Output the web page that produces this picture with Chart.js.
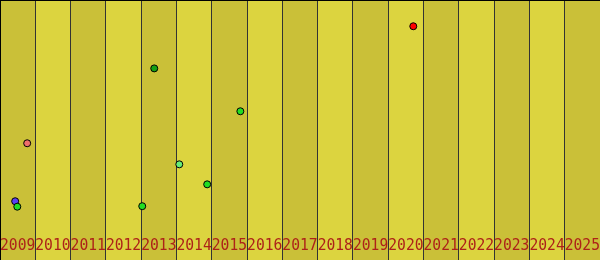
<!DOCTYPE html>
<html>
<head>
<meta charset="utf-8">
<title>Chart</title>
<script src="https://cdn.jsdelivr.net/npm/chart.js@4.4.1/dist/chart.umd.min.js"></script>
<style>
  html, body { margin: 0; padding: 0; background: #dcd43f; }
  #wrap { width: 600px; height: 260px; position: relative; }
</style>
</head>
<body>
<div id="wrap"><canvas id="chart"></canvas></div>
<script>
const years = [2009, 2010, 2011, 2012, 2013, 2014, 2015, 2016, 2017, 2018, 2019, 2020, 2021, 2022, 2023, 2024, 2025];

// points: x = fractional year, y = value (0-100)
const greenX = [2008.99, 2012.53, 2014.37, 2015.31];
const greenY = [20.5, 20.7, 29.1, 57.2];
const darkGreenX = [2012.87];
const darkGreenY = [73.7];
const mintX = [2013.58];
const mintY = [36.8];
const purpleX = [2008.93];
const purpleY = [22.6];
const pinkX = [2009.27];
const pinkY = [44.9];
const redX = [2020.21];
const redY = [89.9];

const toPoints = (xs, ys) => xs.map((x, i) => ({ x, y: ys[i] }));

function dataset(label, xs, ys, color) {
  return {
    label,
    data: toPoints(xs, ys),
    backgroundColor: color,
    borderColor: "#000000",
    borderWidth: 1,
    pointRadius: 3.5,
  };
}

// column stripes, grid lines and year labels taken from the x scale
const stripes = {
  id: "stripes",
  beforeDatasetsDraw(chart) {
    const { ctx, scales, width, height } = chart;
    const x = scales.x;
    ctx.save();
    years.forEach((yr, i) => {
      const left = x.getPixelForValue(yr - 0.5);
      const right = x.getPixelForValue(yr + 0.5);
      ctx.fillStyle = i % 2 === 0 ? "#cac038" : "#dcd43f";
      ctx.fillRect(left, 0, right - left, height);
    });
    ctx.strokeStyle = "#333333";
    ctx.lineWidth = 1;
    years.slice(0, -1).forEach((yr) => {
      const px = Math.floor(x.getPixelForValue(yr + 0.5)) + 0.5;
      ctx.beginPath();
      ctx.moveTo(px, 0);
      ctx.lineTo(px, height);
      ctx.stroke();
    });
    ctx.strokeStyle = "#000000";
    ctx.beginPath();
    ctx.moveTo(0, 0.5);
    ctx.lineTo(width, 0.5);
    ctx.moveTo(0.5, 0);
    ctx.lineTo(0.5, height);
    ctx.stroke();

    ctx.fillStyle = "#ad2219";
    ctx.font = "16px 'DejaVu Sans Mono'";
    ctx.textAlign = "center";
    ctx.textBaseline = "alphabetic";
    years.forEach((yr) => {
      const left = x.getPixelForValue(yr - 0.5);
      const right = x.getPixelForValue(yr + 0.5);
      ctx.fillText(String(yr), x.getPixelForValue(yr), 250, right - left);
    });
    ctx.restore();
  },
};

new Chart(document.getElementById("chart"), {
  type: "scatter",
  data: {
    datasets: [
      dataset("A", greenX, greenY, "#22dd22"),
      dataset("B", darkGreenX, darkGreenY, "#14a014"),
      dataset("C", mintX, mintY, "#66ee77"),
      dataset("D", purpleX, purpleY, "#5b3ef5"),
      dataset("E", pinkX, pinkY, "#ee6f6c"),
      dataset("F", redX, redY, "#ff0000"),
    ],
  },
  options: {
    responsive: true,
    maintainAspectRatio: false,
    animation: false,
    layout: { padding: 0, autoPadding: false },
    plugins: {
      legend: { display: false },
      tooltip: { enabled: false },
    },
    scales: {
      x: {
        type: "linear",
        display: false,
        min: 2008.5,
        max: 2025.5,
      },
      y: {
        display: false,
        min: 0,
        max: 100,
      },
    },
  },
  plugins: [stripes],
});
</script>
</body>
</html>
